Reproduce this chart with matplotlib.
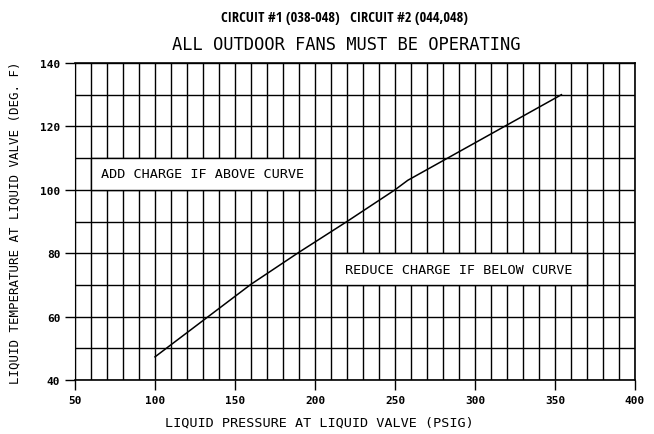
import matplotlib
matplotlib.use("Agg")
import matplotlib.pyplot as plt
from matplotlib import font_manager
from matplotlib.ticker import MultipleLocator
from matplotlib.patches import Rectangle

# Charging curve: liquid pressure (psig) vs liquid temperature (deg F)
pressure = [100, 160, 190, 220, 250, 258, 354]
temperature = [47.3, 70.2, 80.3, 90.0, 100.0, 103.0, 130.0]

x_ticks = [50, 100, 150, 200, 250, 300, 350, 400]
y_ticks = [40, 60, 80, 100, 120, 140]

title_main = "CIRCUIT #1 (038-048)   CIRCUIT #2 (044,048)"
title_sub = "ALL OUTDOOR FANS MUST BE OPERATING"
x_label = "LIQUID PRESSURE AT LIQUID VALVE (PSIG)"
y_label = "LIQUID TEMPERATURE AT LIQUID VALVE (DEG. F)"
add_note = "ADD CHARGE IF ABOVE CURVE"
reduce_note = "REDUCE CHARGE IF BELOW CURVE"

# Note boxes: (x0, x1, y0, y1) in data units
add_box = (60, 200, 100, 110)
reduce_box = (210, 370, 70, 80)

mono = ["DejaVu Sans Mono"]

# Prefer a narrow sans for the heading if one is installed
installed = {f.name for f in font_manager.fontManager.ttflist}
narrow = None
for cand in ("Liberation Sans Narrow", "DejaVu Sans Condensed", "Open Sans Condensed",
             "Roboto Condensed", "Arial Narrow"):
    if cand in installed:
        narrow = cand
        break
if narrow is None:
    head_family, head_size = ["DejaVu Sans"], 7.6
else:
    head_family, head_size = [narrow, "DejaVu Sans"], 10.4

fig = plt.figure(figsize=(6.54, 4.35), dpi=100)
ax = fig.add_axes([75 / 654, 1 - 381 / 435, 560 / 654, 317 / 435])

ax.set_xlim(x_ticks[0], x_ticks[-1])
ax.set_ylim(y_ticks[0], y_ticks[-1])
ax.set_xticks(x_ticks)
ax.set_yticks(y_ticks)
ax.xaxis.set_minor_locator(MultipleLocator(10))
ax.yaxis.set_minor_locator(MultipleLocator(10))
ax.tick_params(which="minor", length=0)
ax.tick_params(which="major", length=7, width=1.0, color="black", direction="out")
ax.grid(which="both", color="black", linewidth=1.0)
ax.set_axisbelow(True)
for side in ax.spines.values():
    side.set_linewidth(1.2)
    side.set_color("black")
ax.spines["left"].set_linewidth(0.8)

for lab in ax.get_xticklabels() + ax.get_yticklabels():
    lab.set_fontfamily(mono)
    lab.set_fontweight("bold")
    lab.set_fontsize(8)

for (x0, x1, y0, y1), note in ((add_box, add_note), (reduce_box, reduce_note)):
    ax.add_patch(Rectangle((x0, y0), x1 - x0, y1 - y0, facecolor="white",
                           edgecolor="black", linewidth=1.0, zorder=1.5))
    ax.text((x0 + x1) / 2, (y0 + y1) / 2, note, ha="center", va="center",
            family=mono, fontsize=9.7, zorder=3)

ax.plot(pressure, temperature, color="black", linewidth=1.1, zorder=2)

fig.text(344 / 654, 1 - 18 / 435, title_main, ha="center", va="center",
         family=head_family, fontweight="bold", fontsize=head_size)
fig.text(346 / 654, 1 - 45 / 435, title_sub, ha="center", va="center",
         family=mono, fontsize=12.3)

fig.text(319 / 654, 1 - 423 / 435, x_label, ha="center", va="center",
         family=mono, fontsize=9.7)
fig.text(15 / 654, 1 - 223 / 435, y_label, ha="center", va="center",
         rotation=90, family=mono, fontsize=8.9)

fig.savefig("out.png", dpi=100, facecolor="white")
